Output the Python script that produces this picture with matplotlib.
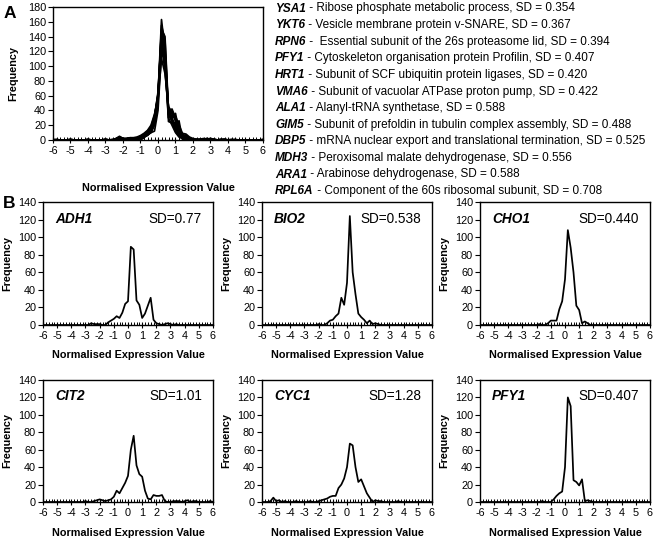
import numpy as np
import matplotlib
matplotlib.use("Agg")
import matplotlib.pyplot as plt

plt.rcParams['font.family'] = ['Liberation Sans', 'DejaVu Sans']
plt.rcParams['axes.unicode_minus'] = False

# Expression-value categories (bins of 0.2 from -6 to 6)
expr_bins = np.linspace(-6, 6, 61)

# ---------------- Panel A: 12 overlaid frequency curves ----------------
A_YSA1 = [0,0,0,0,0,0,0,0,0,0, 0,0,0,0,0,0,0,0,1,2, 1,0,1,1,
          2,3,5,8,12,25,60,163,120,30,20,10,4,2,1,0,0,
          0,0,0,0,0,0,0,0,0,0, 0,0,0,0,0,0,0,0,0,0]
A_YKT6 = [1,0,0,0,0,0,0,0,0,0, 0,0,0,0,0,0,0,0,0,1, 0,1,2,1,
          1,3,4,7,10,20,55,155,135,35,25,12,6,2,1,1,0,
          0,0,1,0,0,0,0,0,0,0, 0,0,0,0,0,0,0,0,0,0]
A_RPN6 = [0,0,0,0,0,1,0,0,0,0, 0,0,0,0,0,0,0,0,2,4, 2,1,1,2,
          2,2,5,6,11,22,50,150,140,40,28,15,8,3,2,0,0,
          0,1,0,0,0,0,0,0,0,0, 0,0,0,0,0,0,0,0,0,0]
A_PFY1 = [0,0,0,0,0,0,0,0,0,0, 0,0,0,0,0,0,0,0,0,0, 0,0,1,0,
          0,0,3,7,10,12,40,120,110,25,23,19,26,1,2,1,0,
          0,0,0,0,0,0,0,0,0,0, 0,0,0,0,0,0,0,0,0,0]
A_HRT1 = [0,0,0,0,0,0,0,0,0,0, 1,0,0,0,0,0,0,0,1,3, 1,1,3,1,
          1,2,4,8,13,26,62,148,118,42,30,18,6,2,1,1,0,
          0,0,0,0,0,1,0,0,0,0, 0,0,0,0,0,0,0,0,0,0]
A_VMA6 = [0,0,0,0,0,0,0,0,0,0, 0,0,0,0,0,1,0,0,1,2, 1,1,2,2,
          2,3,5,7,12,24,58,145,125,38,26,22,10,4,2,0,1,
          0,0,1,1,0,0,0,0,0,0, 0,0,0,0,0,0,0,0,0,0]
A_ALA1 = [0,0,0,0,0,0,0,0,0,0, 0,0,0,0,0,0,0,0,1,4, 2,1,2,2,
          3,4,6,9,14,28,55,130,115,35,32,30,12,5,6,2,1,
          1,0,0,1,2,1,0,0,1,0, 0,0,0,0,0,0,0,0,0,0]
A_GIM5 = [0,0,0,0,0,0,0,0,0,0, 0,0,0,0,0,0,0,0,0,2, 1,0,1,2,
          2,4,6,10,15,30,65,140,100,30,38,25,10,4,3,1,0,
          0,0,0,0,0,0,0,0,0,0, 0,1,0,0,0,0,0,0,0,0]
A_DBP5 = [0,0,0,0,0,0,0,0,0,0, 0,0,0,0,0,0,0,1,1,3, 2,1,3,2,
          3,5,7,10,16,32,60,128,105,44,35,28,14,6,4,2,1,
          0,1,1,2,1,0,0,0,0,0, 0,0,0,0,0,0,0,0,0,0]
A_MDH3 = [0,0,0,0,0,0,0,0,0,0, 0,0,0,0,0,0,0,0,1,3, 1,2,2,2,
          2,4,7,11,17,30,58,135,108,40,30,36,12,5,7,2,1,
          0,0,0,1,0,0,0,1,0,0, 0,0,0,0,0,0,0,0,0,0]
A_ARA1 = [0,0,0,0,0,0,0,0,0,0, 0,0,0,0,0,1,0,0,1,4, 2,2,3,3,
          3,5,8,12,18,33,62,125,95,38,42,30,15,8,5,3,1,
          1,0,1,2,1,0,0,0,1,0, 0,0,0,0,0,0,0,0,0,0]
A_RPL6A = [0,1,0,0,0,1,0,0,0,0, 1,0,0,0,0,1,0,0,2,5, 2,2,3,3,
           4,6,9,13,20,35,55,110,90,45,38,32,20,9,8,4,2,
           1,1,2,1,2,1,0,1,1,0, 1,0,0,0,0,0,0,0,0,1]

A_series = [A_YSA1, A_YKT6, A_RPN6, A_PFY1, A_HRT1, A_VMA6,
            A_ALA1, A_GIM5, A_DBP5, A_MDH3, A_ARA1, A_RPL6A]

A_genes = ["YSA1", "YKT6", "RPN6", "PFY1", "HRT1", "VMA6",
           "ALA1", "GIM5", "DBP5", "MDH3", "ARA1", "RPL6A"]
A_desc = [" - Ribose phosphate metabolic process, SD = 0.354",
          " - Vesicle membrane protein v-SNARE, SD = 0.367",
          " -  Essential subunit of the 26s proteasome lid, SD = 0.394",
          " - Cytoskeleton organisation protein Profilin, SD = 0.407",
          " - Subunit of SCF ubiquitin protein ligases, SD = 0.420",
          " - Subunit of vacuolar ATPase proton pump, SD = 0.422",
          " - Alanyl-tRNA synthetase, SD = 0.588",
          " - Subunit of prefoldin in tubulin complex assembly, SD = 0.488",
          " - mRNA nuclear export and translational termination, SD = 0.525",
          " - Peroxisomal malate dehydrogenase, SD = 0.556",
          " - Arabinose dehydrogenase, SD = 0.588",
          " - Component of the 60s ribosomal subunit, SD = 0.708"]

# ---------------- Panel B: individual genes ----------------
B_ADH1 = [0,0,0,0,0,0,0,0,0,0, 0,0,0,0,0,0,0,2,1,1,
          1,0,0,3,5,7,10,8,14,24, 27,89,86,28,23,8,13,22,31,6,
          2,1,0,1,2,1,0,1,0,0, 0,0,0,0,0,0,0,0,0,0, 0]
B_BIO2 = [0,0,0,0,0,0,0,0,0,0, 0,0,0,0,0,0,0,0,0,0,
          1,0,0,2,5,6,10,13,31,23, 48,124,60,35,13,9,6,2,5,1,
          2,1,0,0,0,0,0,0,0,0, 0,0,0,0,0,0,0,0,0,0, 0]
B_CHO1 = [0,0,0,0,0,0,0,0,0,0, 0,0,0,0,0,0,0,0,0,0,
          0,1,0,0,2,5,5,5,18,27, 52,108,88,60,22,17,2,4,2,0,
          0,0,0,0,0,0,0,0,0,0, 0,0,0,0,0,0,0,0,0,0, 0]
B_CIT2 = [0,0,0,0,0,0,0,0,0,0, 0,0,0,0,0,1,0,0,1,2,
          3,2,1,2,3,6,13,10,16,22, 30,60,76,42,32,29,13,4,3,8,
          7,7,8,1,0,0,1,1,1,0, 1,2,0,1,1,0,0,0,0,1, 0]
B_CYC1 = [0,0,0,1,5,1,2,0,1,0, 0,0,1,0,0,0,0,1,0,0,
          1,2,3,4,6,7,7,16,20,27, 40,67,65,40,23,26,18,10,5,0,
          2,1,1,0,0,0,0,0,1,0, 0,0,0,0,0,0,0,0,0,0, 0]
B_PFY1 = [0,0,0,0,0,0,0,0,0,0, 0,0,0,0,0,0,0,0,0,0,
          0,0,1,0,0,0,3,7,10,12, 40,120,110,25,23,19,26,1,2,1,
          0,0,0,0,0,0,0,0,0,0, 0,0,0,0,0,0,0,0,0,0, 0]

B_genes = ["ADH1", "BIO2", "CHO1", "CIT2", "CYC1", "PFY1"]
B_sd = ["SD=0.77", "SD=0.538", "SD=0.440", "SD=1.01", "SD=1.28", "SD=0.407"]
B_series = [B_ADH1, B_BIO2, B_CHO1, B_CIT2, B_CYC1, B_PFY1]

W, H = 661, 540
fig = plt.figure(figsize=(W / 100, H / 100), dpi=100)


def px_axes(l, t, r, b):
    return fig.add_axes([l / W, 1 - b / H, (r - l) / W, (b - t) / H])


TICK_FS = 7.8
LABEL_FS = 7.8
LW = 1.25


def style(ax, ymax, ystep):
    ax.set_xlim(-6, 6)
    ax.set_ylim(0, ymax)
    ax.set_xticks(np.arange(-6, 7, 1))
    ax.set_xticks(np.arange(-6, 6.01, 0.2), minor=True)
    ax.set_yticks(np.arange(0, ymax + 1, ystep))
    ax.tick_params(axis='x', which='major', direction='inout', length=5,
                   width=0.8, labelsize=TICK_FS, pad=1.5)
    ax.tick_params(axis='x', which='minor', direction='in', length=2.5,
                   width=0.7)
    ax.tick_params(axis='y', which='major', direction='out', length=3.5,
                   width=0.8, labelsize=TICK_FS, pad=1.5)
    for s in ax.spines.values():
        s.set_linewidth(1.0)
        s.set_color('black')


# Panel A
axA = px_axes(53, 7, 263, 140)
for ser in A_series:
    axA.plot(expr_bins, ser, color='black', lw=LW)
style(axA, 180, 20)
axA.text(0.5, -0.36, "Normalised Expression Value", transform=axA.transAxes,
         ha='center', va='center', fontsize=LABEL_FS, fontweight='bold')
axA.text(-0.19, 0.5, "Frequency", transform=axA.transAxes, rotation=90,
         ha='center', va='center', fontsize=LABEL_FS, fontweight='bold')
fig.text(10 / W, 1 - 13 / H, "A", fontsize=12.5, fontweight='bold',
         ha='center', va='center')

LIST_FS = 8.45
for k, (g, d) in enumerate(zip(A_genes, A_desc)):
    yc = 8.5 + 16.6 * k
    t = fig.text(275 / W, 1 - yc / H, g, fontsize=LIST_FS, fontweight='bold',
                 fontstyle='italic', ha='left', va='center')
    fig.add_artist(plt.Annotation(d, xy=(1, 0), xycoords=t, ha='left',
                                  va='bottom', fontsize=LIST_FS))

# Panel B
cols = [(43, 213), (262, 432), (480, 650)]
rows = [(202, 325), (380, 502)]
for idx, (g, sd, ser) in enumerate(zip(B_genes, B_sd, B_series)):
    r, c = divmod(idx, 3)
    l, rr = cols[c]
    t, b = rows[r]
    ax = px_axes(l, t, rr, b)
    ax.plot(expr_bins, ser, color='black', lw=LW)
    style(ax, 140, 20)
    ax.text(0.07, 0.865, g, transform=ax.transAxes, ha='left', va='center',
            fontsize=9.8, fontweight='bold', fontstyle='italic')
    ax.text(0.935, 0.865, sd, transform=ax.transAxes, ha='right',
            va='center', fontsize=9.8)
    ax.text(0.5, -0.245 if r == 0 else -0.255, "Normalised Expression Value",
            transform=ax.transAxes, ha='center', va='center',
            fontsize=LABEL_FS, fontweight='bold')
    ax.text(-0.212, 0.5, "Frequency", transform=ax.transAxes, rotation=90,
            ha='center', va='center', fontsize=LABEL_FS, fontweight='bold')

fig.text(9 / W, 1 - 204 / H, "B", fontsize=12.5, fontweight='bold',
         ha='center', va='center')

fig.savefig("out.png", dpi=100)
